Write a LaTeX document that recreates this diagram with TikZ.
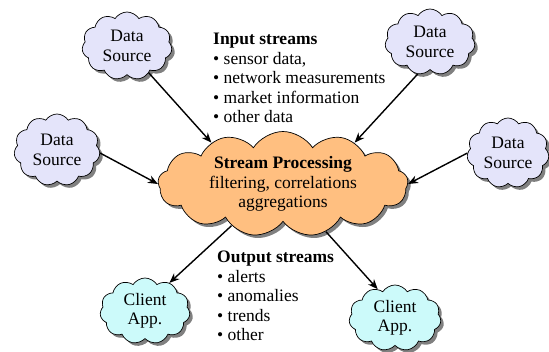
\documentclass[tikz,border=0pt]{standalone}
\usepackage{fontspec}
\setmainfont{Liberation Serif}
\usetikzlibrary{shapes.symbols,shadows,arrows.meta}
\definecolor{dsfill}{HTML}{E4E4FA}
\definecolor{cafill}{HTML}{CCFAFA}
\definecolor{spfill}{HTML}{FFBF80}
\begin{document}
\begin{tikzpicture}[x=1pt,y=-1pt,
  txt/.style={font=\rmfamily\fontsize{17.5}{19.5}\selectfont, align=center, inner sep=0pt},
  cloudbase/.style={cloud, cloud puffs=#1, cloud puff arc=115, draw=black, line width=0.7pt,
     inner sep=0pt, drop shadow={shadow xshift=3pt,shadow yshift=-3pt,fill=black!50,opacity=1}},
  dscloud/.style={cloudbase=11, fill=dsfill},
  cacloud/.style={cloudbase=11, fill=cafill},
  spcloud/.style={cloudbase=13, fill=spfill},
  arr/.style={line width=1.4pt, -{Stealth[length=10pt,width=8pt]}},
  list/.style={txt, align=left, anchor=north west}
]
\useasboundingbox (0,0) rectangle (549,351);

\node[dscloud, minimum width=90, minimum height=68, label={[txt]center:Data\\Source}] (ds1) at (127,46) {};
\node[dscloud, minimum width=86, minimum height=72, label={[txt]center:Data\\Source}] (ds2) at (57,150) {};
\node[dscloud, minimum width=90, minimum height=66, label={[txt]center:Data\\Source}] (ds3) at (430,42) {};
\node[dscloud, minimum width=82, minimum height=70, label={[txt]center:Data\\Source}] (ds4) at (508,153) {};
\node[spcloud, minimum width=250, minimum height=105, label={[txt]center:\textbf{Stream Processing}\\filtering, correlations\\aggregations}] (sp) at (283,184) {};
\node[cacloud, minimum width=90, minimum height=66, label={[txt]center:Client\\App.}] (ca1) at (145,311) {};
\node[cacloud, minimum width=92, minimum height=66, label={[txt]center:Client\\App.}] (ca2) at (395,318) {};

\node[list] (in) at (213,33) {\textbf{Input streams}\\\textbullet\ sensor data,\\\textbullet\ network measurements\\\textbullet\ market information\\\textbullet\ other data};
\node[list] (out) at (217,251) {\textbf{Output streams}\\\textbullet\ alerts\\\textbullet\ anomalies\\\textbullet\ trends\\\textbullet\ other};

\draw[arr] (ds1.-51) -- (sp.150);
\draw[arr] (ds2.-4) -- (sp.180);
\draw[arr] (ds3.-111) -- (sp.30);
\draw[arr] (ds4.180) -- (sp.0);
\draw[arr] (sp.-141) -- (ca1.49);
\draw[arr] (sp.-48) -- (ca2.121);
\end{tikzpicture}
\end{document}
